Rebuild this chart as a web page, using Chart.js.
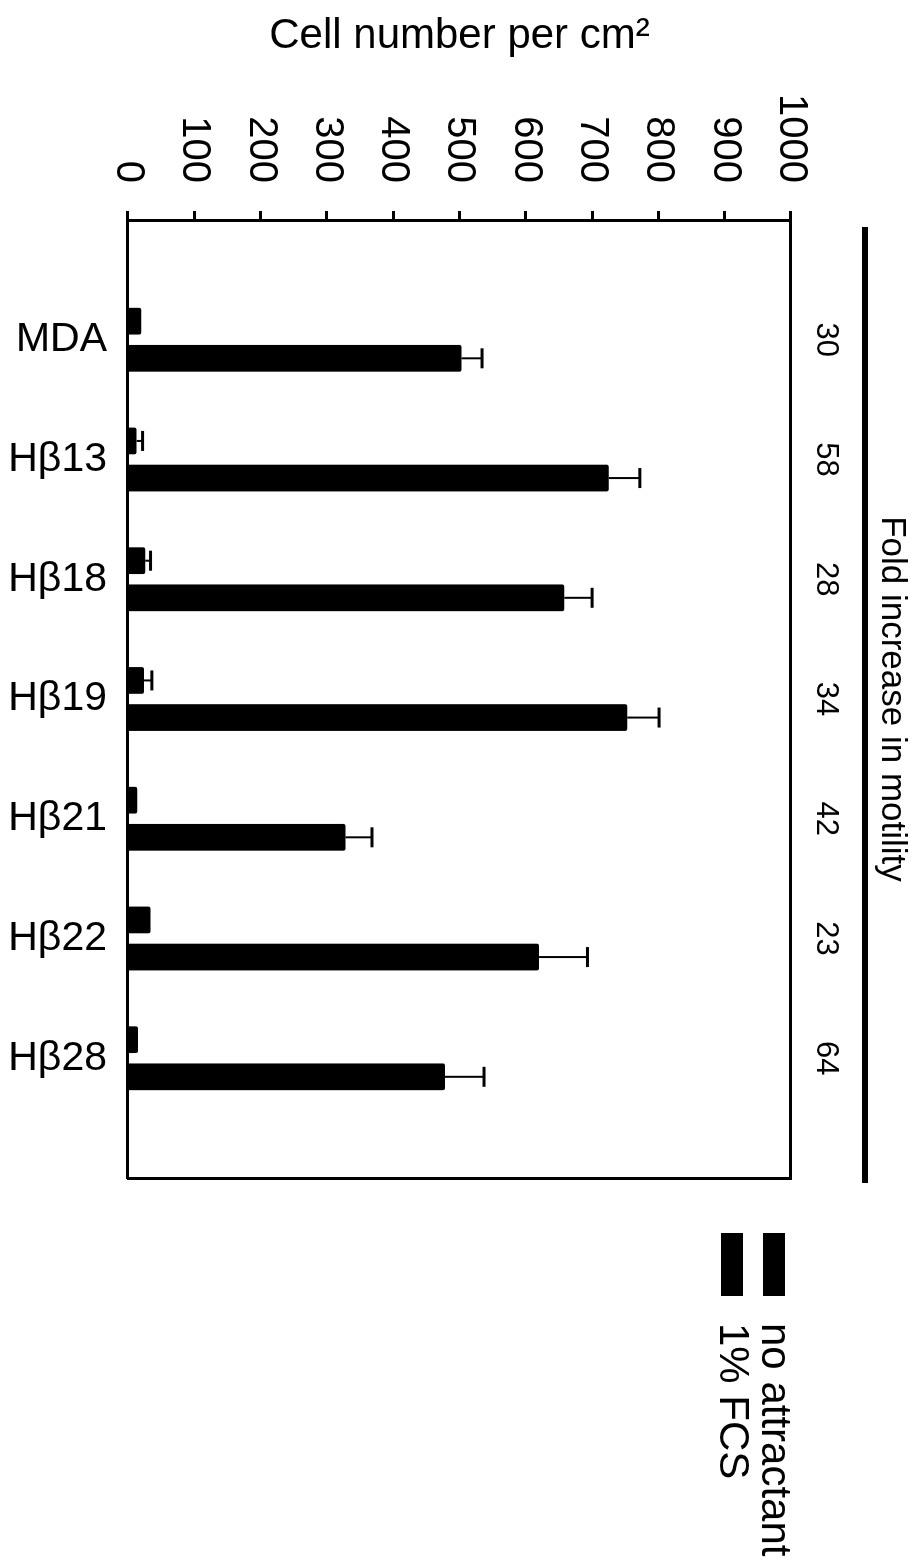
<!DOCTYPE html>
<html>
<head>
<meta charset="utf-8">
<script src="https://cdn.jsdelivr.net/npm/chart.js@4.4.1/dist/chart.umd.min.js"></script>
<style>
  html, body { margin: 0; padding: 0; overflow: hidden; background: #fff; }
  /* the figure is printed turned a quarter clockwise */
  #wrap {
    position: absolute; left: 0; top: 0;
    width: 1564px; height: 924px;
    transform-origin: 0 0;
    transform: translate(924px, 0) rotate(90deg);
  }
</style>
</head>
<body>
<div id="wrap"><canvas id="chart" width="1564" height="924"></canvas></div>
<script>
const FONT = "'Liberation Sans', Arial, Helvetica, sans-serif";

const categories = ['MDA', 'Hβ13', 'Hβ18', 'Hβ19', 'Hβ21', 'Hβ22', 'Hβ28'];
const foldIncrease = [30, 58, 28, 34, 42, 23, 64];

const noAttractant = [20, 13, 26, 24, 14, 34, 15];
const noAttractantErr = [0, 9, 8, 12, 0, 0, 0];

const fcs = [503, 725, 658, 753, 328, 620, 478];
const fcsErr = [31, 47, 42, 48, 40, 73, 59];

const seriesLabels = ['no attractant', '1% FCS'];
const errors = [noAttractantErr, fcsErr];

const toPoints = vals => vals.map((v, i) => ({ x: i, y: v }));

// error bars (one-sided, upward)
const errorBars = {
  id: 'errorBars',
  afterDatasetsDraw(chart) {
    const { ctx } = chart;
    const yScale = chart.scales.y;
    chart.data.datasets.forEach((ds, di) => {
      const meta = chart.getDatasetMeta(di);
      meta.data.forEach((bar, i) => {
        const err = errors[di][i];
        if (!err) return;
        const top = yScale.getPixelForValue(ds.data[i].y + err);
        ctx.save();
        ctx.strokeStyle = '#000';
        ctx.lineWidth = 2;
        ctx.beginPath();
        ctx.moveTo(bar.x, bar.y);
        ctx.lineTo(bar.x, top);
        ctx.stroke();
        ctx.lineWidth = 3;
        ctx.beginPath();
        ctx.moveTo(bar.x - 10, top);
        ctx.lineTo(bar.x + 10, top);
        ctx.stroke();
        ctx.restore();
      });
    });
  },
};

// legend + the rule under "Fold increase in motility"
const extras = {
  id: 'extras',
  afterDraw(chart) {
    const { ctx, chartArea: a } = chart;
    ctx.save();
    ctx.fillStyle = '#000';
    ctx.fillRect(a.left + 7, 56, a.right - a.left - 2, 6);

    ctx.font = `42px ${FONT}`;
    ctx.textBaseline = 'middle';
    seriesLabels.forEach((label, i) => {
      const y = a.top + 6 + i * 42;
      ctx.fillRect(a.right + 55, y, 63, 22);
      ctx.fillText(label, a.right + 145, y + 11);
    });
    ctx.restore();
  },
};

new Chart(document.getElementById('chart'), {
  type: 'bar',
  data: {
    datasets: [
      {
        label: seriesLabels[0],
        data: toPoints(noAttractant),
        backgroundColor: '#000',
        borderRadius: 2,
        borderSkipped: 'start',
      },
      {
        label: seriesLabels[1],
        data: toPoints(fcs),
        backgroundColor: '#000',
        borderRadius: 2,
        borderSkipped: 'start',
      },
    ],
  },
  options: {
    responsive: false,
    animation: false,
    devicePixelRatio: 1,
    categoryPercentage: 0.62,
    barPercentage: 0.72,
    layout: { padding: { top: 0, left: 0, bottom: 0, right: 386 } },
    plugins: {
      legend: { display: false },
      tooltip: { enabled: false },
    },
    scales: {
      x: {
        type: 'linear',
        position: 'bottom',
        min: -1,
        max: 7,
        offset: false,
        grid: { display: false },
        border: { display: true, color: '#000', width: 3 },
        ticks: {
          stepSize: 1,
          autoSkip: false,
          minRotation: 90,
          maxRotation: 90,
          padding: 13,
          color: '#000',
          font: { family: FONT, size: 41 },
          callback: v => categories[v] ?? '',
        },
        afterFit: s => { s.height = 128; },
      },
      x2: {
        type: 'linear',
        position: 'top',
        min: -1,
        max: 7,
        offset: false,
        grid: { display: false },
        border: { display: true, color: '#000', width: 3 },
        ticks: {
          stepSize: 1,
          autoSkip: false,
          maxRotation: 0,
          padding: 8,
          color: '#000',
          font: { family: FONT, size: 31 },
          callback: v => foldIncrease[v] ?? '',
        },
        title: {
          display: true,
          text: 'Fold increase in motility',
          color: '#000',
          font: { family: FONT, size: 35 },
          padding: { top: 11, bottom: 0 },
        },
        afterFit: s => { s.height = 133; },
      },
      y: {
        position: 'left',
        min: 0,
        max: 1000,
        grid: {
          display: true,
          drawOnChartArea: false,
          drawTicks: true,
          tickLength: 9,
          tickWidth: 3,
          color: '#000',
        },
        border: { display: true, color: '#000', width: 3 },
        ticks: {
          stepSize: 100,
          padding: 28,
          color: '#000',
          font: { family: FONT, size: 40 },
          callback: v => String(v),
        },
        title: {
          display: true,
          text: 'Cell number per cm²',
          color: '#000',
          font: { family: FONT, size: 42 },
          padding: { top: 11, bottom: 0 },
        },
        afterFit: s => { s.width = 220; },
      },
      y2: {
        position: 'right',
        min: 0,
        max: 1000,
        grid: { display: false },
        border: { display: true, color: '#000', width: 3 },
        ticks: { display: false },
        afterFit: s => { s.width = 0; },
      },
    },
  },
  plugins: [errorBars, extras],
});
</script>
</body>
</html>
